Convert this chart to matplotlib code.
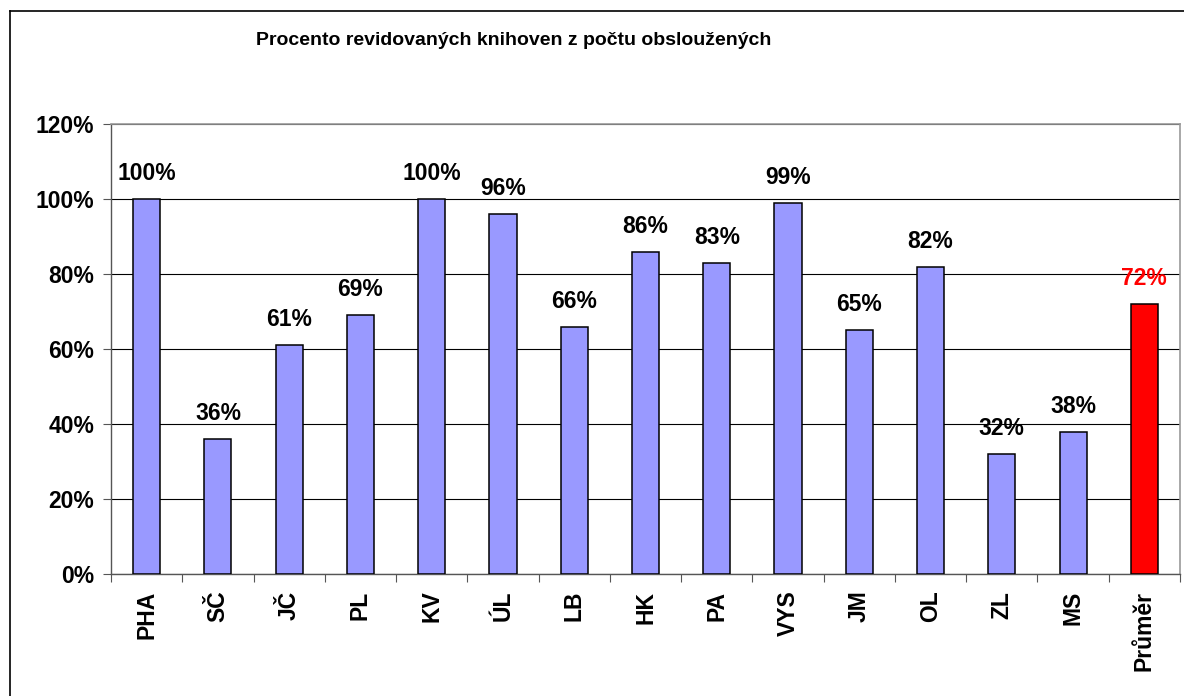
import matplotlib
matplotlib.use("Agg")
import matplotlib.pyplot as plt
from matplotlib.lines import Line2D

plt.rcParams['font.family'] = ['Liberation Sans', 'DejaVu Sans']

regions = ['PHA', 'SČ', 'JČ', 'PL', 'KV', 'ÚL', 'LB', 'HK', 'PA', 'VYS', 'JM', 'OL', 'ZL', 'MS', 'Průměr']
values = [100, 36, 61, 69, 100, 96, 66, 86, 83, 99, 65, 82, 32, 38, 72]
labels = ['100%', '36%', '61%', '69%', '100%', '96%', '66%', '86%', '83%', '99%', '65%', '82%', '32%', '38%', '72%']
yticks = [0, 20, 40, 60, 80, 100, 120]

fig = plt.figure(figsize=(11.84, 6.96), dpi=100)
ax = fig.add_axes([0.0938, 0.1753, 0.9028, 0.6465])

colors = ['#9999FF'] * (len(values) - 1) + ['#FF0000']
x = list(range(len(values)))
bars = ax.bar(x, values, width=0.38, color=colors, edgecolor='black', linewidth=1.1, zorder=3)

for i, (b, lab) in enumerate(zip(bars, labels)):
    c = 'red' if i == len(values) - 1 else 'black'
    ax.annotate(lab, (b.get_x() + b.get_width() / 2, b.get_height()),
                xytext=(0, 10), textcoords='offset points', ha='center', va='bottom',
                fontsize=16.5, fontweight='bold', color=c)

ax.set_ylim(0, 120)
ax.set_xlim(-0.5, len(values) - 0.5)
ax.set_yticks(yticks)
ax.set_yticklabels([f'{t}%' for t in yticks], fontsize=16.5, fontweight='bold')
ax.yaxis.grid(True, color='black', linewidth=0.8, zorder=0)

ax.set_xticks([i - 0.5 for i in range(len(values) + 1)])
ax.set_xticklabels([])
ax.set_xticks(x, minor=True)
ax.set_xticklabels(regions, minor=True, rotation=90, fontsize=16.5, fontweight='bold')
ax.tick_params(axis='x', which='minor', length=0, pad=12)
ax.tick_params(axis='x', which='major', length=6, color='#555555', direction='out')
ax.tick_params(axis='y', length=6, color='#555555', pad=6)

for s in ['top', 'right']:
    ax.spines[s].set_color('#999999')
    ax.spines[s].set_linewidth(1.2)
for s in ['left', 'bottom']:
    ax.spines[s].set_color('#555555')
    ax.spines[s].set_linewidth(1.0)

fig.text(0.434, 0.9425, 'Procento revidovaných knihoven z počtu obsloužených',
         ha='center', va='center', fontsize=14, fontweight='bold')

# outer chart frame (left and top edges visible)
fig.add_artist(Line2D([10 / 1184, 10 / 1184], [0, 1 - 11 / 696], color='black', linewidth=1.2))
fig.add_artist(Line2D([10 / 1184, 1], [1 - 11 / 696, 1 - 11 / 696], color='black', linewidth=1.2))

fig.savefig('out.png', dpi=100)
